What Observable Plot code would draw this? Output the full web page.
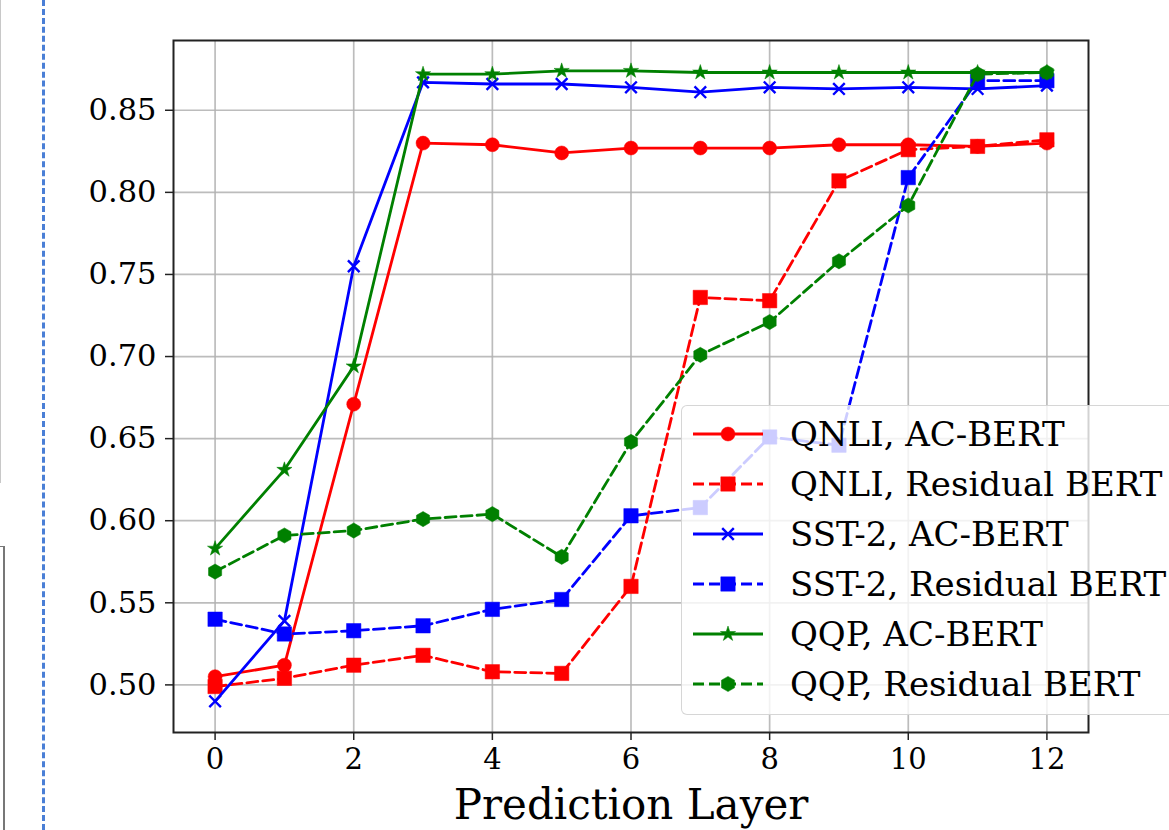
<!DOCTYPE html>
<html>
<head>
<meta charset="utf-8">
<script src="https://cdn.jsdelivr.net/npm/d3@7"></script>
<script src="https://cdn.jsdelivr.net/npm/@observablehq/plot@0.6"></script>
<style>
  html, body { margin: 0; padding: 0; background: #fff; }
  #wrap { position: relative; width: 1169px; height: 830px; overflow: hidden; background: #fff; font-family: "DejaVu Serif", serif; }
  .legend { position: absolute; left: 681px; top: 405px; width: 520px; height: 310px;
            background: rgba(255,255,255,0.8); border: 1.5px solid rgba(204,204,204,0.8); border-radius: 6px; box-sizing: border-box; }
  .legrow { position: absolute; left: 0; height: 50px; }
  .legrow svg { position: absolute; left: 10px; }
  .legrow span { position: absolute; left: 108px; font-size: 34px; white-space: nowrap; color: #000; line-height: 50px; top: 0; }
</style>
</head>
<body>
<div id="wrap"></div>
<script>
// ---- data ----
const layers = [0, 1, 2, 3, 4, 5, 6, 7, 8, 9, 10, 11, 12];
const qnliAC  = [0.505, 0.512, 0.671, 0.830, 0.829, 0.824, 0.827, 0.827, 0.827, 0.829, 0.829, 0.828, 0.830];
const qnliRes = [0.499, 0.504, 0.512, 0.518, 0.508, 0.507, 0.560, 0.736, 0.734, 0.807, 0.826, 0.828, 0.832];
const sstAC   = [0.490, 0.539, 0.755, 0.867, 0.866, 0.866, 0.864, 0.861, 0.864, 0.863, 0.864, 0.863, 0.865];
const sstRes  = [0.540, 0.531, 0.533, 0.536, 0.546, 0.552, 0.603, 0.608, 0.651, 0.646, 0.809, 0.868, 0.868];
const qqpAC   = [0.583, 0.631, 0.694, 0.872, 0.872, 0.874, 0.874, 0.873, 0.873, 0.873, 0.873, 0.873, 0.873];
const qqpRes  = [0.569, 0.591, 0.594, 0.601, 0.604, 0.578, 0.648, 0.701, 0.721, 0.758, 0.792, 0.872, 0.873];
const seriesNames = ["QNLI, AC-BERT", "QNLI, Residual BERT", "SST-2, AC-BERT", "SST-2, Residual BERT", "QQP, AC-BERT", "QQP, Residual BERT"];
const xTicks = [0, 2, 4, 6, 8, 10, 12];
const yTicks = [0.50, 0.55, 0.60, 0.65, 0.70, 0.75, 0.80, 0.85];
const xLabel = "Prediction Layer";

// ---- custom marker shapes (size = pi r^2) ----
const rad = s => Math.sqrt(s / Math.PI);
const symSquare = { draw(ctx, s) { const r = rad(s); ctx.rect(-r, -r, 2 * r, 2 * r); } };
const symTimes = { draw(ctx, s) { const r = rad(s); ctx.moveTo(-r, -r); ctx.lineTo(r, r); ctx.moveTo(-r, r); ctx.lineTo(r, -r); } };
const symStar = { draw(ctx, s) { const R = rad(s), ri = R * 0.38;
  for (let i = 0; i < 10; i++) { const a = -Math.PI / 2 + i * Math.PI / 5, rr = i % 2 ? ri : R;
    const px = rr * Math.cos(a), py = rr * Math.sin(a); i ? ctx.lineTo(px, py) : ctx.moveTo(px, py); } ctx.closePath(); } };
const symHex = { draw(ctx, s) { const R = rad(s);
  for (let i = 0; i < 6; i++) { const a = -Math.PI / 2 + i * Math.PI / 3;
    const px = R * Math.cos(a), py = R * Math.sin(a); i ? ctx.lineTo(px, py) : ctx.moveTo(px, py); } ctx.closePath(); } };

const LW = 2.8, DASH = "11,5";
const styles = [
  { values: qnliAC,  color: "#ff0000", dash: null, symbol: d3.symbolCircle, r: 7,   filled: true },
  { values: qnliRes, color: "#ff0000", dash: DASH, symbol: symSquare,       r: 7.2, filled: true },
  { values: sstAC,   color: "#0000ff", dash: null, symbol: symTimes,        r: 5.8, filled: false },
  { values: sstRes,  color: "#0000ff", dash: DASH, symbol: symSquare,       r: 7.2, filled: true },
  { values: qqpAC,   color: "#008000", dash: null, symbol: symStar,         r: 8,   filled: true },
  { values: qqpRes,  color: "#008000", dash: DASH, symbol: symHex,          r: 7.6, filled: true }
];

const seriesMarks = styles.flatMap((st, i) => {
  const rows = layers.map((x, j) => ({ layer: x, value: st.values[j], series: seriesNames[i] }));
  return [
    Plot.line(rows, { x: "layer", y: "value", stroke: st.color, strokeWidth: LW, strokeDasharray: st.dash ?? undefined }),
    Plot.dot(rows, { x: "layer", y: "value", symbol: () => st.symbol, r: st.r,
      fill: st.filled ? st.color : "none", stroke: st.color, strokeWidth: st.filled ? 0.5 : 2.4 })
  ];
});

const chart = Plot.plot({
  width: 1169, height: 830,
  marginLeft: 173, marginRight: 81, marginTop: 40, marginBottom: 98,
  style: { fontFamily: "DejaVu Serif", fontSize: "30px", color: "#000", background: "transparent" },
  x: { domain: [-0.6, 12.6] },
  y: { domain: [0.471, 0.8925] },
  symbol: { type: "identity" },
  marks: [
    Plot.gridX(xTicks, { stroke: "#b0b0b0", strokeOpacity: 0.85, strokeWidth: 1.7 }),
    Plot.gridY(yTicks, { stroke: "#b0b0b0", strokeOpacity: 0.85, strokeWidth: 1.7 }),
    ...seriesMarks,
    Plot.frame({ stroke: "#222", strokeWidth: 2 }),
    Plot.axisX(xTicks, { tickSize: 8, tickPadding: 8, stroke: "#222", strokeWidth: 1.5, fontSize: 29, label: null }),
    Plot.axisY(yTicks, { tickSize: 8, tickPadding: 9, tickFormat: d3.format(".2f"), stroke: "#222", strokeWidth: 1.5, fontSize: 30.5, label: null }),
    Plot.text([xLabel], { x: () => 6, frameAnchor: "bottom", dy: 73, fontSize: 42, lineAnchor: "middle", text: d => d })
  ]
});

const wrap = document.getElementById("wrap");
wrap.appendChild(chart);

// ---- legend (overlaid, like matplotlib's) ----
const legend = document.createElement("div");
legend.className = "legend";
styles.forEach((st, i) => {
  const row = document.createElement("div");
  row.className = "legrow";
  row.style.top = (3 + 50 * i) + "px";
  row.style.width = "520px";
  const svg = d3.create("svg").attr("width", 74).attr("height", 50).style("top", "0px");
  svg.append("line").attr("x1", 1).attr("x2", 71).attr("y1", 25).attr("y2", 25)
    .attr("stroke", st.color).attr("stroke-width", LW).attr("stroke-dasharray", st.dash);
  svg.append("path").attr("transform", "translate(36,25)")
    .attr("d", d3.symbol(st.symbol, Math.PI * st.r * st.r)())
    .attr("fill", st.filled ? st.color : "none").attr("stroke", st.color).attr("stroke-width", st.filled ? 0.5 : 2.4);
  row.appendChild(svg.node());
  const span = document.createElement("span");
  span.textContent = seriesNames[i];
  row.appendChild(span);
  legend.appendChild(row);
});
wrap.appendChild(legend);

// ---- screenshot edge decorations ----
const deco = (css) => { const d = document.createElement("div"); d.style.cssText = "position:absolute;" + css; wrap.appendChild(d); };
deco("left:42px;top:0;width:0;height:830px;border-left:3px dashed #4a7fd6;");
deco("left:0;top:0;width:1px;height:483px;background:#c8c8c8;");
deco("left:0;top:546px;width:5px;height:284px;border-top:1.5px solid #777;border-right:2px solid #777;box-sizing:border-box;");
</script>
</body>
</html>
